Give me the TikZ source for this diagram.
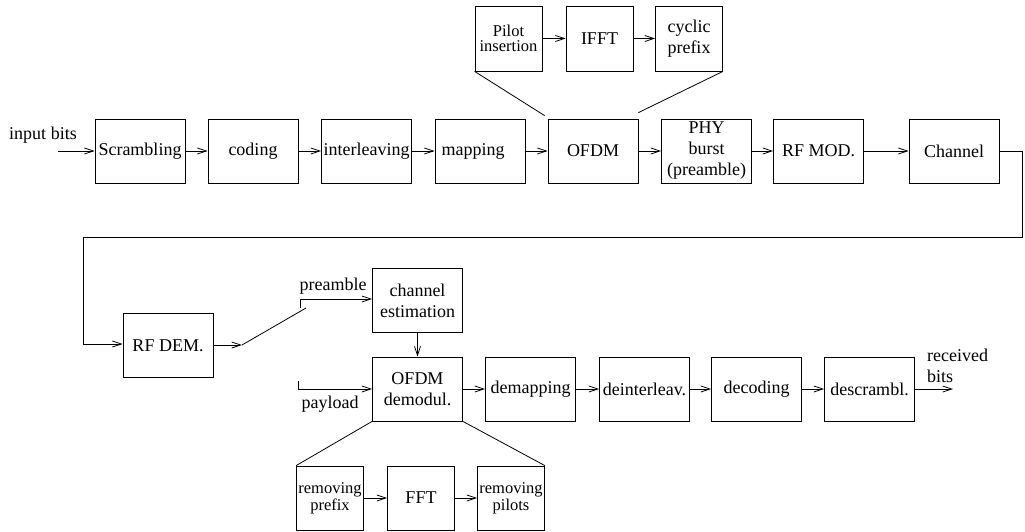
\documentclass[tikz,border=0pt]{standalone}
\usepackage{fontspec}
\setmainfont{Liberation Serif}
\usetikzlibrary{arrows.meta}
\begin{document}
\begin{tikzpicture}[x=1pt,y=-1pt,
  blk/.style={draw,line width=0.8pt,minimum width=90pt,minimum height=64pt,inner sep=0pt,align=center,font=\fontsize{18}{21}\selectfont},
  subblk/.style={draw,line width=0.8pt,minimum width=67pt,minimum height=65pt,inner sep=0pt,align=center},
  lbl/.style={inner sep=0pt,font=\fontsize{18}{21}\selectfont},
  conn/.style={line width=0.8pt},
  arr/.style={conn,-{Straight Barb[length=9pt,width=6pt]}}]
\useasboundingbox (0,0) rectangle (1025,531);

% top row
\node[blk] (scr) at (140,151) {Scrambling};
\node[blk] (cod) at (253,151) {coding};
\node[blk] (int) at (366.5,151) {interleaving};
\node[blk] (map) at (480,151) {mapping\hspace*{14pt}};
\node[blk] (ofdm) at (593,151) {OFDM};
\node[blk] (phy) at (706.5,151) {PHY\\burst\\(preamble)};
\node[blk] (rfm) at (818.5,151) {RF MOD.};
\node[blk] (chn) at (954,151) {Channel};

% OFDM sub blocks
\node[subblk,font=\fontsize{16.5}{15}\selectfont] (pil) at (508.5,38.5) {Pilot\\insertion};
\node[subblk,font=\fontsize{18}{21}\selectfont] (ifft) at (599.5,38.5) {IFFT};
\node[subblk,font=\fontsize{18}{21}\selectfont] (cyc) at (689,38.5) {cyclic\\prefix};

\node[lbl] (inb) at (43,135) {input bits};
\coordinate (inS) at (58,151);

% bottom row
\node[blk] (rfd) at (168,345.5) {RF DEM.};
\node[blk] (che) at (417.5,300.5) {channel\\estimation};
\node[blk] (ofd) at (417.5,389) {OFDM\\demodul.};
\node[blk] (dem) at (530.5,389) {demapping};
\node[blk] (dei) at (644.5,389) {deinterleav.};
\node[blk] (dec) at (756.5,389) {decoding};
\node[blk] (des) at (869.5,389) {descrambl.};

\node[subblk,minimum height=64pt,font=\fontsize{16.5}{17}\selectfont] (rpr) at (330,498) {removing\\prefix};
\node[subblk,minimum height=64pt,font=\fontsize{18}{21}\selectfont] (fft) at (421,498) {FFT};
\node[subblk,minimum height=64pt,font=\fontsize{16.5}{17}\selectfont] (rpi) at (511,498) {removing\\pilots};

\node[lbl] (pre) at (333,286) {preamble};
\node[lbl] (pay) at (330,404) {payload};
\node[lbl,anchor=west,align=left] (rec) at (927,366) {received\\bits};

% coordinates
\coordinate (c1) at (1022,151);
\coordinate (c2) at (1022,237);
\coordinate (c3) at (83,237);
\coordinate (c4) at (83,344);
\coordinate (sw) at (242,345);
\coordinate (swe) at (306,308);
\coordinate (p1) at (300,308);
\coordinate (p2) at (300,299);
\coordinate (q1) at (298,381);
\coordinate (q2) at (298,389);
\coordinate (outE) at (953,389);

% top connectors
\draw[arr] (inS) -- (scr);
\draw[arr] (scr) -- (cod);
\draw[arr] (cod) -- (int);
\draw[arr] (int) -- (map);
\draw[arr] (map) -- (ofdm);
\draw[arr] (ofdm) -- (phy);
\draw[arr] (phy) -- (rfm);
\draw[arr] (rfm) -- (chn);
\draw[arr] (pil) -- (ifft);
\draw[arr] (ifft) -- (cyc);
\draw[conn] (pil.south west) -- ([xshift=-3pt,yshift=3pt]ofdm.north west);
\draw[conn] (cyc.south east) -- ([yshift=6pt]ofdm.north east);

% loop back
\draw[arr] (chn.east) -- (c1) -- (c2) -- (c3) -- (c4) -- (rfd.west |- c4);
\draw[arr] (rfd.east |- sw) -- (sw);
\draw[conn] (sw) -- (swe);
\draw[arr] (p1) -- (p2) -- (che.west |- p2);
\draw[arr] (che) -- (ofd);
\draw[arr] (q1) -- (q2) -- (ofd.west |- q2);

% bottom connectors
\draw[arr] (ofd) -- (dem);
\draw[arr] (dem) -- (dei);
\draw[arr] (dei) -- (dec);
\draw[arr] (dec) -- (des);
\draw[arr] (des) -- (outE);
\draw[arr] (rpr) -- (fft);
\draw[arr] (fft) -- (rpi);
\draw[conn] (ofd.south west) -- (rpr.north west);
\draw[conn] (ofd.south east) -- (rpi.north east);
\end{tikzpicture}
\end{document}
